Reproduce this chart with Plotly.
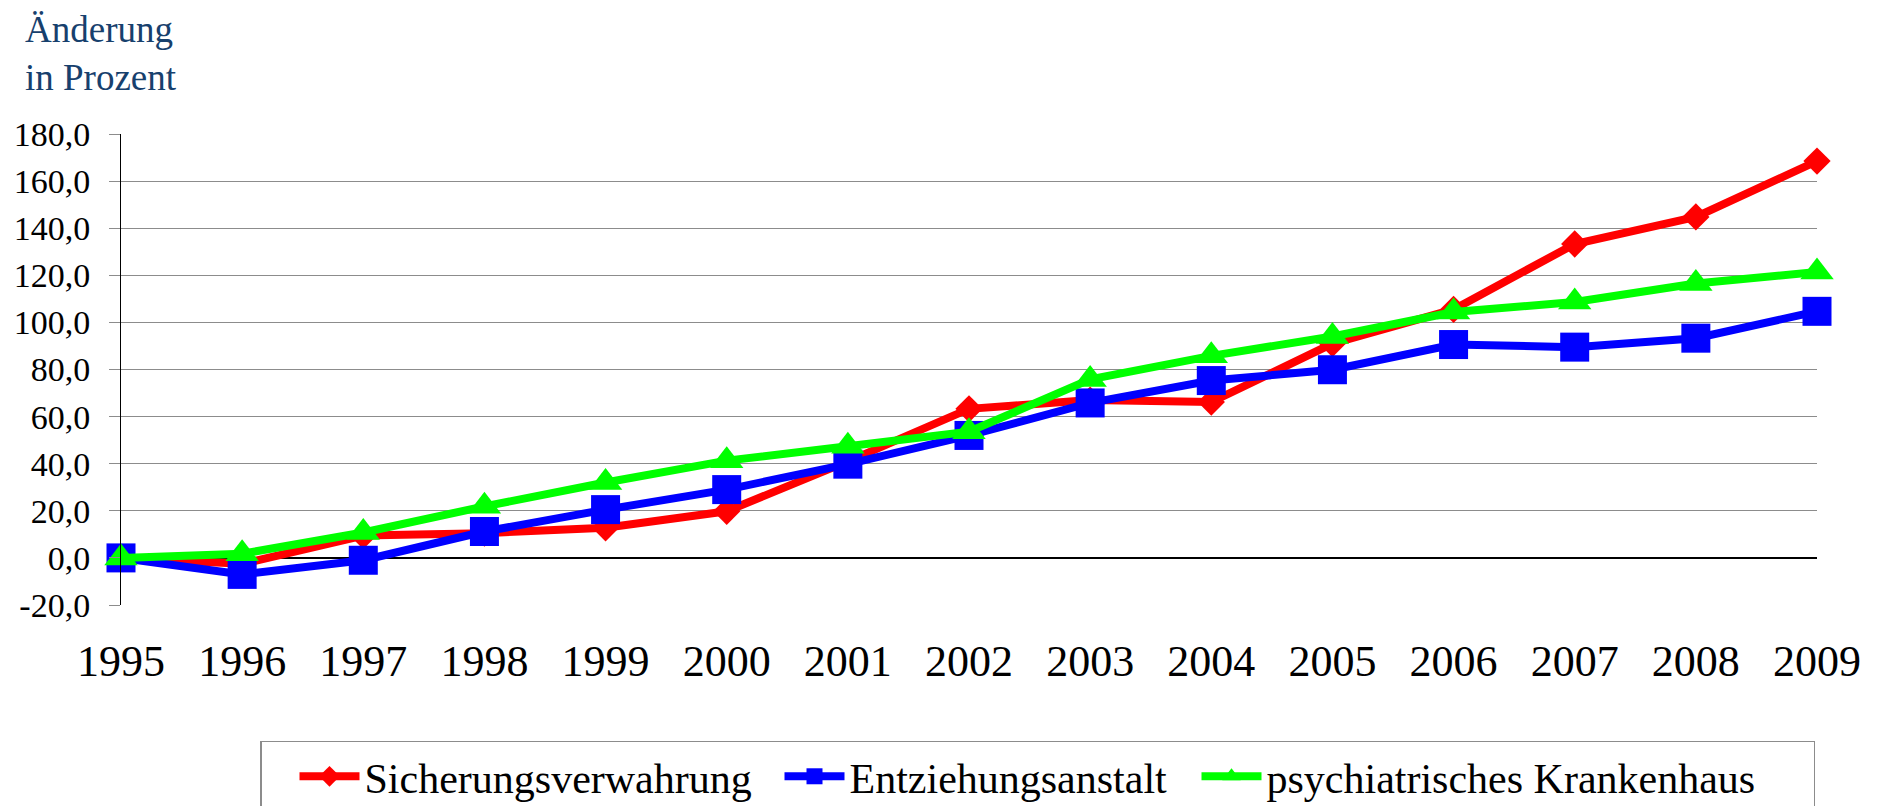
import plotly.graph_objects as go

# Daten (Änderung gegenüber 1995 in Prozent)
jahre = ['1995', '1996', '1997', '1998', '1999', '2000', '2001', '2002',
         '2003', '2004', '2005', '2006', '2007', '2008', '2009']
sicherungsverwahrung = [0.0, -2.5, 9.5, 10.5, 12.8, 19.8, 41.0, 63.3,
                        67.0, 66.2, 91.0, 105.5, 133.3, 144.8, 168.5]
entziehungsanstalt = [0.0, -7.0, -1.0, 11.2, 20.5, 29.0, 39.8, 52.0,
                      65.8, 75.3, 79.9, 90.6, 89.5, 93.3, 104.7]
psychiatrie = [0.0, 1.8, 10.8, 21.9, 32.0, 41.3, 47.4, 53.6,
               75.8, 85.8, 94.0, 104.4, 108.7, 116.5, 121.4]

y_ticks = [-20, 0, 20, 40, 60, 80, 100, 120, 140, 160, 180]
y_ticktext = ['-20,0', '0,0', '20,0', '40,0', '60,0', '80,0', '100,0',
              '120,0', '140,0', '160,0', '180,0']

FONT = 'Liberation Serif, Times New Roman, serif'

fig = go.Figure()

serien = [
    ('Sicherungsverwahrung', sicherungsverwahrung, '#FF0000', 'diamond', 21, 377),
    ('Entziehungsanstalt', entziehungsanstalt, '#0000FF', 'square', 29, 309),
    ('psychiatrisches Krankenhaus', psychiatrie, '#00FF00', 'triangle-up', 29, 542),
]
for name, werte, farbe, symbol, groesse, lbreite in serien:
    fig.add_trace(go.Scatter(
        x=jahre, y=werte, name=name, mode='lines+markers',
        line=dict(color=farbe, width=8),
        marker=dict(symbol=symbol, size=groesse, color=farbe,
                    line=dict(width=0)),
        cliponaxis=False, legendwidth=lbreite,
    ))

# Tickmarken an der Nulllinie
shapes = []
for j in jahre:
    shapes.append(dict(type='line', xref='x', yref='y', layer='between',
                       x0=j, x1=j, ysizemode='pixel', yanchor=0, y0=0, y1=-12,
                       line=dict(color='black', width=1)))

# Seite hat 8px body-margin -> Figur etwas kleiner
fig.update_layout(
    width=1875, height=798,
    margin=dict(l=113, r=66, t=126, b=201, autoexpand=False),
    paper_bgcolor='white', plot_bgcolor='white',
    font=dict(family=FONT, color='black'),
    showlegend=True,
    legend=dict(
        orientation='h', xref='container', x=0.1344, y=-0.2887,
        xanchor='left', yanchor='top',
        font=dict(family=FONT, size=42, color='black'),
        bordercolor='#8c8c8c', borderwidth=1.5, bgcolor='white',
        itemwidth=60, traceorder='normal', indentation=33,
    ),
    shapes=shapes,
    annotations=[dict(
        text='Änderung<br>in Prozent', xref='paper', yref='paper',
        x=-0.0569, y=1.2675, xanchor='left', yanchor='top', align='left',
        borderpad=0,
        showarrow=False, font=dict(family=FONT, size=37, color='#17406D'),
    )],
)

fig.update_xaxes(
    type='category', range=[0, len(jahre) - 1],
    showgrid=False, showline=False, zeroline=False, ticks='',
    tickfont=dict(family=FONT, size=44, color='black'),
    ticklabelstandoff=26,
)
fig.update_yaxes(
    range=[-20, 180], tickvals=y_ticks, ticktext=y_ticktext,
    showgrid=True, gridcolor='#8c8c8c', gridwidth=1.3,
    showline=True, linecolor='black', linewidth=1,
    zeroline=True, zerolinecolor='black', zerolinewidth=1.5,
    ticks='outside', ticklen=11, tickcolor='#8c8c8c', tickwidth=1.3,
    tickfont=dict(family=FONT, size=34, color='black'),
    ticklabelstandoff=12,
)

fig.write_html('out.html')
